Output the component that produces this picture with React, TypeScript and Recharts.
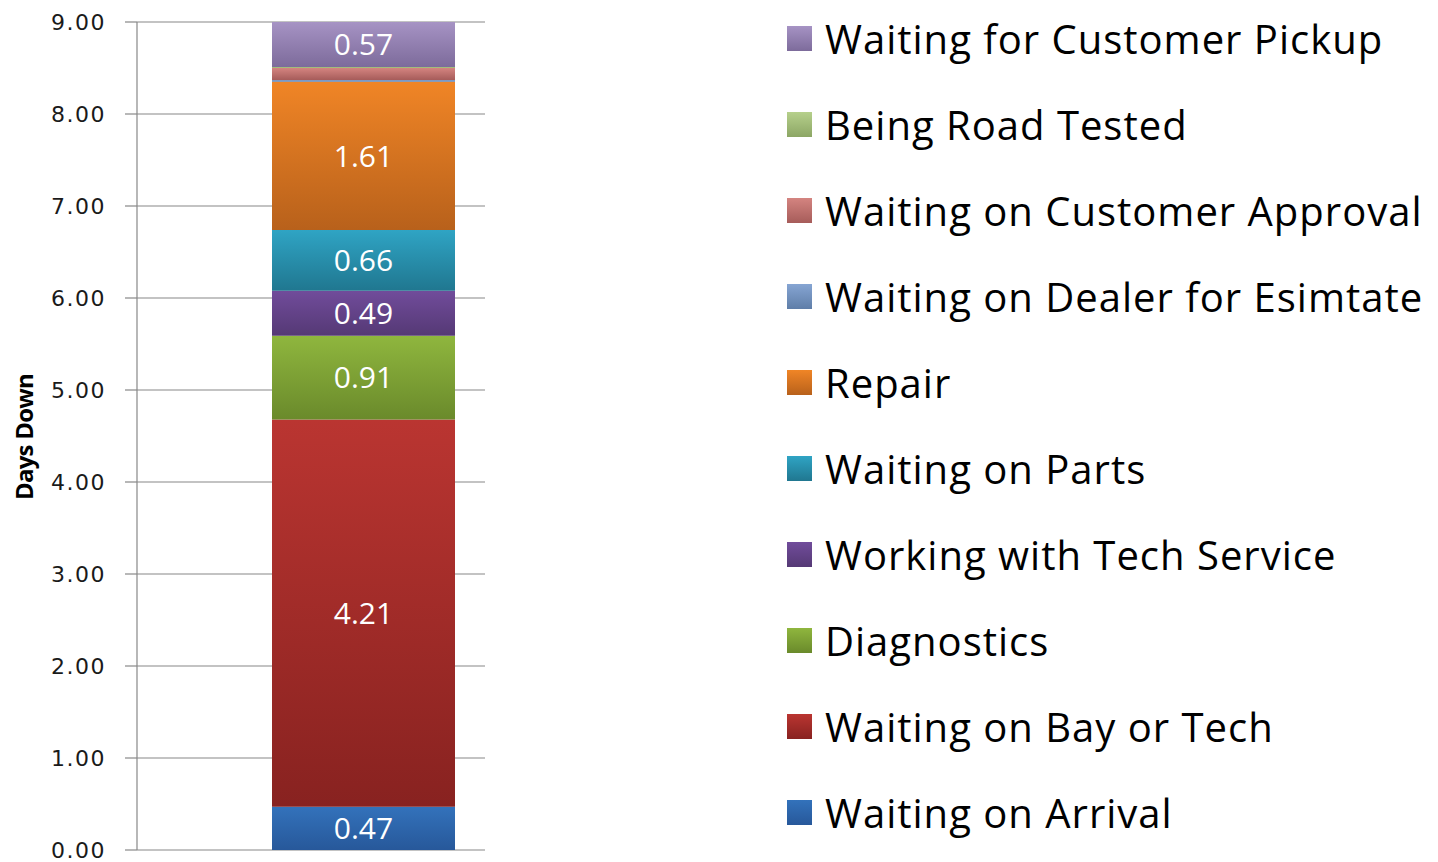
import React from "react";
import { Bar, BarChart, CartesianGrid, LabelList, XAxis, YAxis } from "recharts";

// stack order: bottom -> top
const SERIES = [
  "Waiting on Arrival",
  "Waiting on Bay or Tech",
  "Diagnostics",
  "Working with Tech Service",
  "Waiting on Parts",
  "Repair",
  "Waiting on Dealer for Esimtate",
  "Waiting on Customer Approval",
  "Being Road Tested",
  "Waiting for Customer Pickup",
];
const VALUES = [0.47, 4.21, 0.91, 0.49, 0.66, 1.61, 0.02, 0.13, 0.01, 0.57];
const SHOW_LABEL = [true, true, true, true, true, true, false, false, false, true];
// gradient top / bottom
const COLOR_TOP = ["#3372bb", "#ba3531", "#8fb63e", "#714c9b", "#2fa4c4", "#f08526", "#86a5d3", "#d48480", "#b6d08b", "#a693c4"];
const COLOR_BOTTOM = ["#27589a", "#882220", "#6a8a2b", "#553975", "#207790", "#b8611b", "#5f7ea8", "#a65c5a", "#8ca665", "#7d6b9b"];
const Y_TICKS = [0, 1, 2, 3, 4, 5, 6, 7, 8, 9];

const row: Record<string, string | number> = { name: "Days" };
SERIES.forEach((s, i) => (row[s] = VALUES[i]));
const data = [row];

const fmt = (v: any) => Number(v).toFixed(2);

function Legend() {
  const order = SERIES.map((s, i) => i).reverse();
  return (
    <div style={{ position: "absolute", left: 787, top: -5, display: "flex", flexDirection: "column" }}>
      {order.map((i) => (
        <div key={i} style={{ height: 86, display: "flex", alignItems: "center" }}>
          <div
            style={{
              width: 25,
              height: 25,
              background: `linear-gradient(${COLOR_TOP[i]}, ${COLOR_BOTTOM[i]})`,
              marginRight: 13,
            }}
          />
          <span
            style={{
              fontFamily: "'Open Sans', sans-serif",
              fontSize: 40,
              letterSpacing: 1,
              color: "#000",
              whiteSpace: "nowrap",
            }}
          >
            {SERIES[i]}
          </span>
        </div>
      ))}
    </div>
  );
}

export default function App() {
  return (
    <div style={{ position: "absolute", left: 0, top: 0, width: 1438, height: 862, background: "#fff" }}>
      <BarChart width={500} height={862} data={data} margin={{ top: 22, right: 15, bottom: 12, left: 0 }} barSize={183}>
        <defs>
          {SERIES.map((s, i) => (
            <linearGradient key={s} id={`g${i}`} x1="0" y1="0" x2="0" y2="1">
              <stop offset="0%" stopColor={COLOR_TOP[i]} />
              <stop offset="100%" stopColor={COLOR_BOTTOM[i]} />
            </linearGradient>
          ))}
        </defs>
        <CartesianGrid vertical={false} stroke="#888" strokeWidth={1.2} />
        <XAxis dataKey="name" hide padding={{ left: 105, right: 0 }} />
        <YAxis
          width={137}
          domain={[0, 9]}
          ticks={Y_TICKS}
          interval={0}
          allowDataOverflow
          tickFormatter={fmt}
          tickSize={12}
          tickMargin={19}
          axisLine={{ stroke: "#888", strokeWidth: 1.2 }}
          tickLine={{ stroke: "#888", strokeWidth: 1.2 }}
          tick={{ fill: "#1a1a1a", fontSize: 22, fontFamily: "'DejaVu Sans', sans-serif", letterSpacing: 1.5 }}
          label={{
            content: () => (
              <text
                x={33}
                y={437}
                transform="rotate(-90 33 437)"
                textAnchor="middle"
                fontFamily="'Open Sans', sans-serif"
                fontWeight="bold"
                fontSize={24}
                letterSpacing={-0.8}
                fill="#000"
              >
                Days Down
              </text>
            ),
          }}
        />
        {SERIES.map((s, i) => (
          <Bar key={s} dataKey={s} stackId="a" fill={`url(#g${i})`} isAnimationActive={false}>
            {SHOW_LABEL[i] && (
              <LabelList
                dataKey={s}
                position="center"
                formatter={fmt}
                fill="#fff"
                fontSize={30}
                fontFamily="'Open Sans', sans-serif"
              />
            )}
          </Bar>
        ))}
      </BarChart>
      <Legend />
    </div>
  );
}
